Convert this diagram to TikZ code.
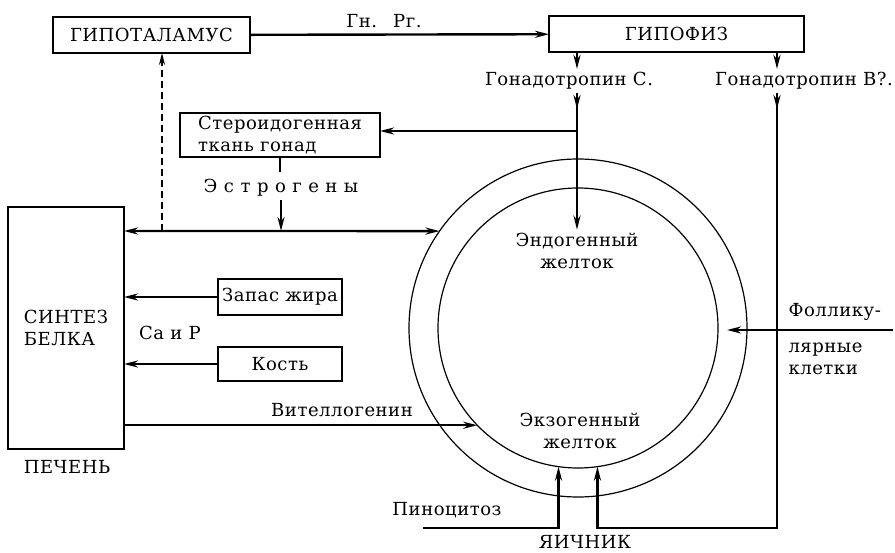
\documentclass[tikz,border=0pt]{standalone}
\usepackage{fontspec}
\setmainfont{DejaVu Serif}[LetterSpace=3]
\usetikzlibrary{arrows.meta}

\tikzset{
  box/.style={draw,line width=1.4pt,inner sep=0pt,outer sep=0pt},
  ring/.style={draw,circle,line width=1.2pt,inner sep=0pt,outer sep=0pt},
  flow/.style={line width=2.4pt,-{Stealth[length=14pt,width=7pt]}},
  thinflow/.style={line width=1.3pt,-{Stealth[length=12pt,width=6pt]}},
}

\begin{document}
\begin{tikzpicture}[x=1pt,y=-1pt,font=\fontsize{18}{22}\selectfont]
  \useasboundingbox (0,0) rectangle (895,553);

  % boxes
  \node[box,minimum width=197pt,minimum height=36pt] (hypo) at (151.5,35) {ГИПОТАЛАМУС};
  \node[box,minimum width=255pt,minimum height=36pt] (pit) at (676.5,34) {ГИПОФИЗ};
  \node[box,minimum width=200pt,minimum height=44pt,align=left] (ster) at (280,135) {Стероидогенная\\ткань гонад};
  \node[box,minimum width=116pt,minimum height=242pt,align=left] (liver) at (66,328) {СИНТЕЗ\\БЕЛКА};
  \node[box,minimum width=124pt,minimum height=36pt] (fat) at (280,297) {Запас жира};
  \node[box,minimum width=124pt,minimum height=34pt] (bone) at (280,364) {Кость};

  % ovary
  \node[ring,minimum size=338pt] (egg) at (578,328) {};
  \node[ring,minimum size=280pt] (yolk) at (578,328) {};

  % labels
  \node (gnrg) at (384,21) {Гн.\hspace{16pt}Рг.};
  \node (gonC) at (569,81) {Гонадотропин С.};
  \node (gonB) at (804,81) {Гонадотропин В?.};
  \node (estro) at (281,188) {\spaceskip=6.5pt plus 1pt Э с т р о г е н ы};
  \node[align=center] (endo) at (577,251) {Эндогенный\\желток};
  \node[align=center] (exo) at (580,431) {Экзогенный\\желток};
  \node (ca) at (170,333) {Ca и P};
  \node (vit) at (342,410) {Вителлогенин};
  \node (pino) at (447,510) {Пиноцитоз};
  \node[anchor=west] (foll) at (785,312) {Фоллику-};
  \node[anchor=west,align=left] (foll2) at (785,359) {лярные\\клетки};
  \node (liverlbl) at (67,467) {ПЕЧЕНЬ};
  \node (ovary) at (585,542) {ЯИЧНИК};

  \coordinate (cx) at (577,131);
  \coordinate (bx) at (777,528);
  \coordinate (dsh) at (162,231);
  \coordinate (pin) at (423,528);
  \coordinate (fr) at (893,330);
  \coordinate (fl) at (727,330);

  % hormones
  \draw[flow] (hypo) -- (pit);
  \draw[flow] (pit.south -| cx) -- (gonC.north -| cx);
  \draw[flow] (gonC.south -| cx) -- ++(0,16);
  \draw[flow] (gonC.south -| cx) -- (endo.north -| cx);
  \draw[flow] (cx) -- (ster.east |- cx);
  \draw[flow] (pit.south -| bx) -- (gonB.north -| bx);
  \draw[flow] (gonB.south -| bx) -- ++(0,16);
  \draw[flow] (gonB.south -| bx) -- (bx) -| (yolk.-82);
  \draw[flow] (pin) -| (yolk.-98);
  \draw[flow] (fr) -- (fl);

  % estrogens
  \draw[line width=2.4pt] (ster.south) -- ++(0,15);
  \draw[flow] (estro.south) -- (estro.south |- dsh);
  \draw[line width=2.4pt,{Stealth[length=14pt,width=7pt]}-{Stealth[length=14pt,width=7pt]}] (liver.east |- dsh) -- (egg.145);
  \draw[thinflow,dash pattern=on 7pt off 4pt] (dsh) -- (hypo.south -| dsh);

  % liver
  \draw[flow] (fat.west) -- (liver.east |- fat.west);
  \draw[flow] (bone.west) -- (liver.east |- bone.west);
  \draw[flow] (liver.east |- yolk.-136) -- (yolk.-136);
\end{tikzpicture}
\end{document}
